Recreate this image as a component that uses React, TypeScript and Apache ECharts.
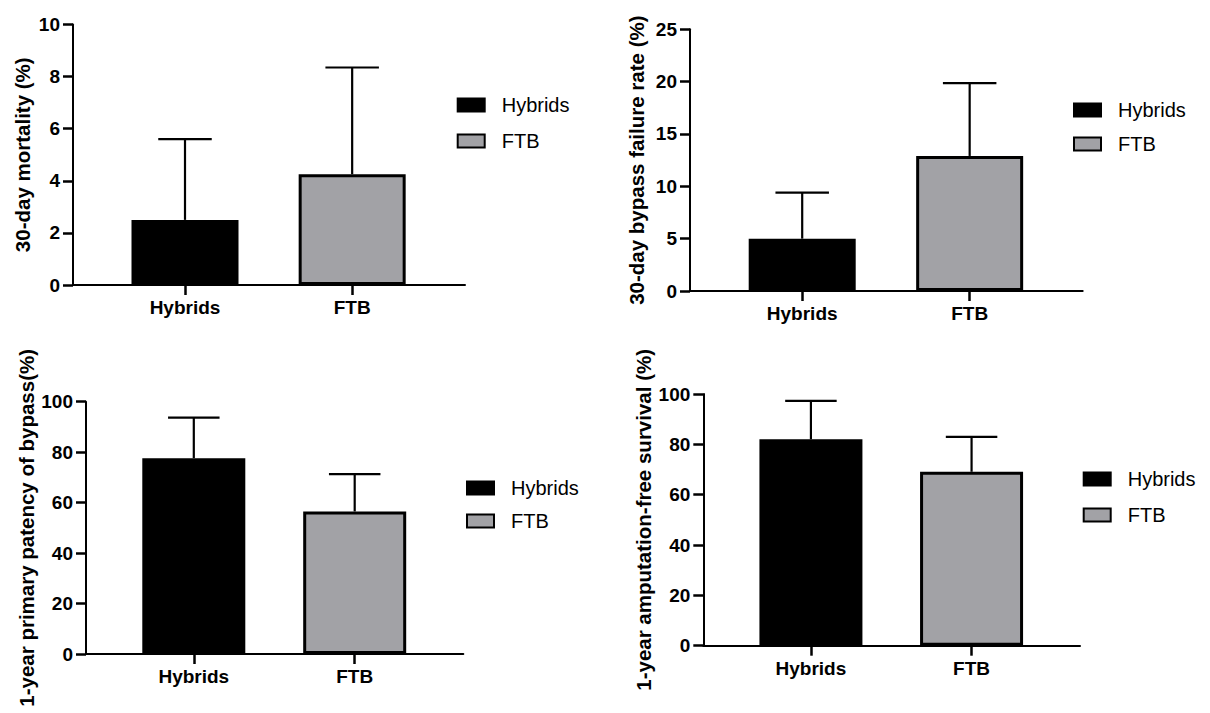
import React, { useEffect, useRef } from "react";
import * as echarts from "echarts";

// ---- data ----
const categories = ["Hybrids", "FTB"];
const seriesNames = ["Hybrids", "FTB"];

const mortalityMean = [2.5, 4.25];
const mortalityUpper = [5.6, 8.35];

const failureMean = [5.0, 12.9];
const failureUpper = [9.4, 19.85];

const patencyMean = [77.6, 56.5];
const patencyUpper = [93.7, 71.3];

const survivalMean = [82.0, 69.1];
const survivalUpper = [97.3, 83.0];

const mortalityTicks = { max: 10, interval: 2 };
const failureTicks = { max: 25, interval: 5 };
const patencyTicks = { max: 100, interval: 20 };
const survivalTicks = { max: 100, interval: 20 };

const yNames = [
  "30-day mortality (%)",
  "30-day bypass failure rate (%)",
  "1-year primary patency of bypass(%)",
  "1-year amputation-free survival (%)",
];

// ---- layout / style ----
const FONT = "'Liberation Sans', Arial, sans-serif";
const barColors = ["#000000", "#a2a2a6"];
const TICK_COLOR = "#000";

const panels = [
  {
    grid: { left: 73, top: 24.5, width: 392, height: 260.5 },
    ticks: mortalityTicks, mean: mortalityMean, upper: mortalityUpper,
    name: yNames[0], nameGap: 40, barWidth: 107,
    legend: { left: 456.7, top: 95, itemGap: 16 },
  },
  {
    grid: { left: 690, top: 29.3, width: 392.7, height: 261.7 },
    ticks: failureTicks, mean: failureMean, upper: failureUpper,
    name: yNames[1], nameGap: 43, barWidth: 107,
    legend: { left: 1073, top: 100, itemGap: 14 },
  },
  {
    grid: { left: 86, top: 401.7, width: 377.3, height: 252.3 },
    ticks: patencyTicks, mean: patencyMean, upper: patencyUpper,
    name: yNames[2], nameGap: 48, barWidth: 103,
    legend: { left: 466, top: 478, itemGap: 13 },
  },
  {
    grid: { left: 703.3, top: 394, width: 376.7, height: 251.7 },
    ticks: survivalTicks, mean: survivalMean, upper: survivalUpper,
    name: yNames[3], nameGap: 49, barWidth: 103,
    legend: { left: 1082.7, top: 469, itemGap: 16 },
  },
];

function buildOption() {
  const grid: any[] = [];
  const xAxis: any[] = [];
  const yAxis: any[] = [];
  const legend: any[] = [];
  const series: any[] = [];

  panels.forEach((p, gi) => {
    grid.push({ ...p.grid });
    xAxis.push({
      type: "value",
      gridIndex: gi,
      min: -0.67,
      max: 1.675,
      axisLine: { show: true, onZero: false, lineStyle: { color: "#000", width: 2 } },
      axisTick: { show: true, customValues: [0, 1], length: 10, lineStyle: { color: TICK_COLOR, width: 2.5 } },
      axisLabel: {
        show: true,
        customValues: [0, 1],
        formatter: (v: number) => categories[Math.round(v)] ?? "",
        color: "#000",
        fontFamily: FONT,
        fontWeight: "bold",
        fontSize: 19,
        margin: 13,
      },
      splitLine: { show: false },
    });
    yAxis.push({
      type: "value",
      gridIndex: gi,
      min: 0,
      max: p.ticks.max,
      interval: p.ticks.interval,
      name: p.name,
      nameLocation: "middle",
      nameGap: p.nameGap,
      nameTextStyle: { color: "#000", fontFamily: FONT, fontWeight: "bold", fontSize: 20.5 },
      axisLine: { show: true, onZero: false, lineStyle: { color: "#000", width: 2 } },
      axisTick: { show: true, length: 10, lineStyle: { color: TICK_COLOR, width: 2.5 } },
      axisLabel: {
        color: "#000",
        fontFamily: FONT,
        fontWeight: "bold",
        fontSize: 19,
        margin: 13,
      },
      splitLine: { show: false },
    });
    legend.push({
      data: seriesNames,
      orient: "vertical",
      left: p.legend.left,
      top: p.legend.top,
      padding: 0,
      itemGap: p.legend.itemGap,
      itemWidth: 27,
      itemHeight: 13,
      icon: "rect",
      selectedMode: false,
      textStyle: {
        color: "#000",
        fontFamily: FONT,
        fontSize: 20,
        lineHeight: 20,
        padding: [0, 0, 0, 12],
      },
    });
    seriesNames.forEach((sn, si) => {
      series.push({
        type: "bar",
        name: sn,
        xAxisIndex: gi,
        yAxisIndex: gi,
        barWidth: p.barWidth,
        barGap: "-100%",
        z: 3,
        itemStyle: { color: barColors[si], borderColor: "#000", borderWidth: 3 },
        data: [[si, p.mean[si]]],
      });
    });
    const cap = p.barWidth / 2;
    series.push({
      type: "custom",
      name: "err" + gi,
      xAxisIndex: gi,
      yAxisIndex: gi,
      z: 2,
      encode: { x: 0, y: [1, 2] },
      data: categories.map((_, i) => [i, p.mean[i], p.upper[i]]),
      renderItem: (params: any, api: any) => {
        const x = api.value(0);
        const m = api.value(1);
        const u = api.value(2);
        const p0 = api.coord([x, m]);
        const p1 = api.coord([x, u]);
        const st = { stroke: "#000", lineWidth: 2.2 };
        return {
          type: "group",
          children: [
            { type: "line", shape: { x1: p0[0], y1: p0[1], x2: p1[0], y2: p1[1] }, style: st },
            { type: "line", shape: { x1: p1[0] - cap / 2, y1: p1[1], x2: p1[0] + cap / 2, y2: p1[1] }, style: st },
          ],
        };
      },
    });
  });

  return {
    animation: false,
    backgroundColor: "#ffffff",
    grid,
    xAxis,
    yAxis,
    legend,
    series,
  };
}

export default function App() {
  const ref = useRef<HTMLDivElement>(null);
  useEffect(() => {
    if (!ref.current) return;
    const chart = echarts.init(ref.current, null, { renderer: "svg" });
    chart.setOption(buildOption() as any);
    return () => chart.dispose();
  }, []);
  return (
    <div
      ref={ref}
      style={{ position: "absolute", left: 0, top: 0, width: 1210, height: 713 }}
    />
  );
}
